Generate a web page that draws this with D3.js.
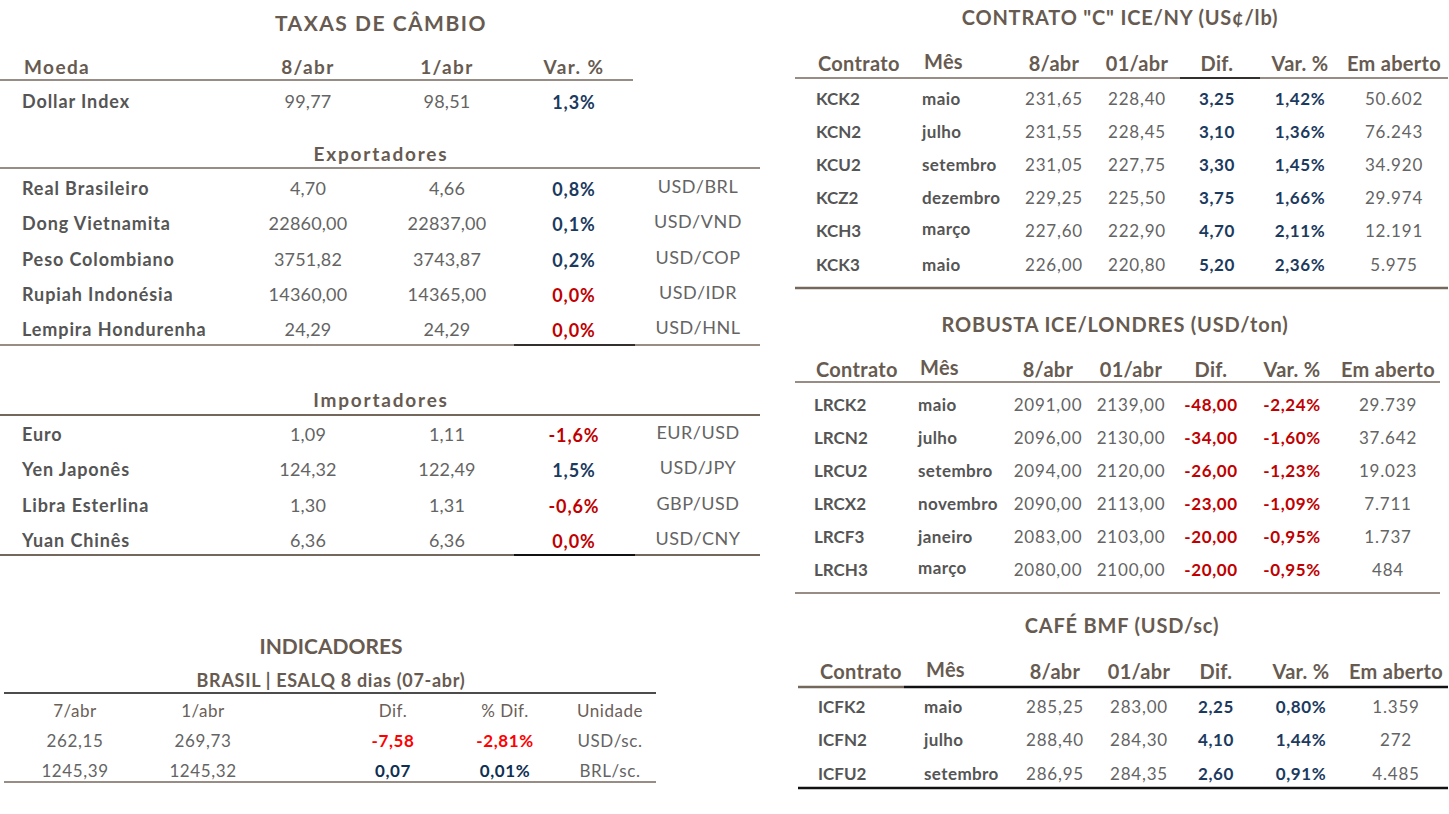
<!doctype html>
<html lang="pt">
<head>
<meta charset="utf-8">
<title>Taxas de câmbio e contratos de café</title>
<script src="https://cdn.jsdelivr.net/npm/d3@7"></script>
<style>
  body { margin: 0; background: #fff; }
  svg { display: block; font-family: Lato, "Open Sans", sans-serif; }
</style>
</head>
<body>
<script>

// ---- dados: taxas de câmbio ----
var taxaHeader = ["Moeda", "8/abr", "1/abr", "Var. %"];

var dollarNome = ["Dollar Index"];
var dollar8 = [99.77];
var dollar1 = [98.51];
var dollarVar = [1.3];

var exportNomes = ["Real Brasileiro", "Dong Vietnamita", "Peso Colombiano", "Rupiah Indonésia", "Lempira Hondurenha"];
var export8 = [4.70, 22860.00, 3751.82, 14360.00, 24.29];
var export1 = [4.66, 22837.00, 3743.87, 14365.00, 24.29];
var exportVar = [0.8, 0.1, 0.2, 0.0, 0.0];
var exportPar = ["USD/BRL", "USD/VND", "USD/COP", "USD/IDR", "USD/HNL"];

var importNomes = ["Euro", "Yen Japonês", "Libra Esterlina", "Yuan Chinês"];
var import8 = [1.09, 124.32, 1.30, 6.36];
var import1 = [1.11, 122.49, 1.31, 6.36];
var importVar = [-1.6, 1.5, -0.6, 0.0];
var importPar = ["EUR/USD", "USD/JPY", "GBP/USD", "USD/CNY"];

// ---- dados: indicadores ----
var indHeader = ["7/abr", "1/abr", "Dif.", "% Dif.", "Unidade"];
var ind7 = [262.15, 1245.39];
var ind1 = [269.73, 1245.32];
var indDif = [-7.58, 0.07];
var indPct = [-2.81, 0.01];
var indUnid = ["USD/sc.", "BRL/sc."];

// ---- dados: contratos futuros ----
var futHeader = ["Contrato", "Mês", "8/abr", "01/abr", "Dif.", "Var. %", "Em aberto"];

var kcContratos = ["KCK2", "KCN2", "KCU2", "KCZ2", "KCH3", "KCK3"];
var kcMeses = ["maio", "julho", "setembro", "dezembro", "março", "maio"];
var kc8 = [231.65, 231.55, 231.05, 229.25, 227.60, 226.00];
var kc1 = [228.40, 228.45, 227.75, 225.50, 222.90, 220.80];
var kcDif = [3.25, 3.10, 3.30, 3.75, 4.70, 5.20];
var kcVar = [1.42, 1.36, 1.45, 1.66, 2.11, 2.36];
var kcAberto = [50602, 76243, 34920, 29974, 12191, 5975];

var lrContratos = ["LRCK2", "LRCN2", "LRCU2", "LRCX2", "LRCF3", "LRCH3"];
var lrMeses = ["maio", "julho", "setembro", "novembro", "janeiro", "março"];
var lr8 = [2091, 2096, 2094, 2090, 2083, 2080];
var lr1 = [2139, 2130, 2120, 2113, 2103, 2100];
var lrDif = [-48, -34, -26, -23, -20, -20];
var lrVar = [-2.24, -1.60, -1.23, -1.09, -0.95, -0.95];
var lrAberto = [29739, 37642, 19023, 7711, 1737, 484];

var icContratos = ["ICFK2", "ICFN2", "ICFU2"];
var icMeses = ["maio", "julho", "setembro"];
var ic8 = [285.25, 288.40, 286.95];
var ic1 = [283.00, 284.30, 284.35];
var icDif = [2.25, 4.10, 2.60];
var icVar = [0.80, 1.44, 0.91];
var icAberto = [1359, 272, 4485];

// ---- estilo ----
var brown = "#675b51";
var lineBrown = "#74675c";
var nameGray = "#555555";
var valGray = "#646464";
var blue = "#1b3a5e";
var red = "#c00000";
var brightRed = "#ff0000";
var navy = "#0f2f52";

var br = d3.formatLocale({ decimal: ",", thousands: ".", grouping: [3], currency: ["", ""], minus: "-" });
var f2 = br.format(".2f");
var f1 = br.format(".1f");
var fInt = br.format(",.0f");

var width = 1449, height = 814;
var svg = d3.select("body").append("svg").attr("width", width).attr("height", height);

function txt(g, x, y, s, o) {
    o = o || {};
    return g.append("text")
        .attr("x", x).attr("y", y)
        .attr("dominant-baseline", "central")
        .attr("text-anchor", o.anchor || "middle")
        .attr("font-size", o.size || 16)
        .attr("font-weight", o.weight || "normal")
        .attr("letter-spacing", o.ls || 0)
        .attr("fill", o.fill || valGray)
        .text(s);
}

function hline(g, x1, x2, y, color, w) {
    g.append("line")
        .attr("x1", x1).attr("x2", x2).attr("y1", y).attr("y2", y)
        .attr("stroke", color || lineBrown).attr("stroke-width", w || 1.5);
}

// ================= TAXAS DE CÂMBIO =================
var left = svg.append("g");

var xTaxa = d3.scaleOrdinal().domain(taxaHeader.concat(["par"])).range([22, 308, 447, 574, 698]);

txt(left, 381, 22, "TAXAS DE CÂMBIO", { size: 21, weight: "bold", fill: brown, ls: 1.5 });

taxaHeader.forEach(function(h, i) {
    txt(left, i == 0 ? 24 : xTaxa(h), 66, h, { size: 19, weight: "bold", fill: brown, anchor: i == 0 ? "start" : "middle", ls: 1.4 });
});
hline(left, 0, 633, 80);

function taxaRows(nomes, v8, v1, vr, par, y0, y1) {
    var y = d3.scalePoint().domain(d3.range(nomes.length)).range([y0, y1]);
    nomes.forEach(function(n, i) {
        txt(left, xTaxa("Moeda"), y(i), n, { anchor: "start", size: 18, weight: "bold", fill: nameGray, ls: 0.9 });
        txt(left, xTaxa("8/abr"), y(i), f2(v8[i]), { size: 18, ls: 0.2 });
        txt(left, xTaxa("1/abr"), y(i), f2(v1[i]), { size: 18, ls: 0.2 });
        txt(left, xTaxa("Var. %"), y(i) + 1, f1(vr[i]) + "%", { size: 18, weight: "bold", fill: v8[i] > v1[i] ? blue : red, ls: 0.9 });
        if (par) txt(left, xTaxa("par"), y(i) - 2, par[i], { size: 18, ls: 0.5 });
    });
}

taxaRows(dollarNome, dollar8, dollar1, dollarVar, null, 101, 101);

txt(left, 381, 153, "Exportadores", { size: 19, weight: "bold", fill: brown, ls: 1.8 });
hline(left, 0, 760, 168);
taxaRows(exportNomes, export8, export1, exportVar, exportPar, 188, 329);
hline(left, 0, 760, 345);
hline(left, 514, 635, 345, "#111", 1.5);

txt(left, 381, 399, "Importadores", { size: 19, weight: "bold", fill: brown, ls: 1.8 });
hline(left, 0, 760, 415, lineBrown, 2);
taxaRows(importNomes, import8, import1, importVar, importPar, 434, 540);
hline(left, 0, 760, 555, lineBrown, 2);
hline(left, 514, 635, 555, "#111", 2);

// ================= INDICADORES =================
var ind = svg.append("g");
var xInd = d3.scaleOrdinal().domain(indHeader).range([75, 203, 393, 505, 610]);

txt(ind, 331, 645, "INDICADORES", { size: 21, weight: "bold", fill: brown });
txt(ind, 331, 680, "BRASIL | ESALQ 8 dias (07-abr)", { size: 18, weight: "bold", fill: brown, ls: 0.7 });
hline(ind, 4, 656, 693, "#111", 1.5);

indHeader.forEach(function(h) {
    txt(ind, xInd(h), 710, h, { size: 17, fill: "#6a6058", ls: 0.5 });
});

var yInd = d3.scalePoint().domain(d3.range(ind7.length)).range([740, 770]);
ind7.forEach(function(v, i) {
    var c = indDif[i] < 0 ? brightRed : navy;
    txt(ind, xInd("7/abr"), yInd(i), f2(ind7[i]), { size: 17, ls: 0.6 });
    txt(ind, xInd("1/abr"), yInd(i), f2(ind1[i]), { size: 17, ls: 0.6 });
    txt(ind, xInd("Dif."), yInd(i), f2(indDif[i]), { size: 17, weight: "bold", fill: c, ls: 0.6 });
    txt(ind, xInd("% Dif."), yInd(i), f2(indPct[i]) + "%", { size: 17, weight: "bold", fill: c, ls: 0.6 });
    txt(ind, xInd("Unidade"), yInd(i), indUnid[i], { size: 17, ls: 0.6 });
});
hline(ind, 4, 656, 782, lineBrown, 1.5);

// ================= CONTRATOS FUTUROS =================
function futTable(o) {
    var g = svg.append("g");
    var x = d3.scaleOrdinal().domain(futHeader).range(o.cols);
    var y = d3.scalePoint().domain(d3.range(o.contratos.length)).range(o.rows);

    txt(g, o.titleX, o.titleY, o.title, { size: 20, weight: "bold", fill: brown, ls: 0.8 });

    futHeader.forEach(function(h, i) {
        var a = i < 2 ? "start" : "middle";
        txt(g, x(h) + (i < 2 ? 2 : 0), o.headY - (i == 1 ? 2 : 0), h, { size: 20, weight: "bold", fill: brown, anchor: a, ls: 0.3 });
    });
    o.headLine(g);

    o.contratos.forEach(function(c, i) {
        var col = o.dif[i] < 0 ? red : blue;
        txt(g, x("Contrato"), y(i), c, { anchor: "start", size: 17, weight: "bold", fill: nameGray });
        txt(g, x("Mês"), y(i) - (o.meses[i] == "março" ? 2 : 0), o.meses[i], { anchor: "start", size: 17, weight: "bold", fill: nameGray, ls: 0.4 });
        txt(g, x("8/abr"), y(i), f2(o.v8[i]), { size: 17, ls: 0.8 });
        txt(g, x("01/abr"), y(i), f2(o.v1[i]), { size: 17, ls: 0.8 });
        txt(g, x("Dif."), y(i), f2(o.dif[i]), { size: 17, weight: "bold", fill: col, ls: 0.6 });
        txt(g, x("Var. %"), y(i), f2(o.vr[i]) + "%", { size: 17, weight: "bold", fill: col, ls: 0.6 });
        txt(g, x("Em aberto"), y(i), fInt(o.aberto[i]), { size: 17, ls: 0.8 });
    });
    o.footLine(g);
}

futTable({
    title: "CONTRATO \"C\" ICE/NY (US¢/lb)", titleX: 1120, titleY: 17, headY: 63,
    cols: [816, 922, 1054, 1137, 1217, 1300, 1394], rows: [98, 264],
    contratos: kcContratos, meses: kcMeses, v8: kc8, v1: kc1, dif: kcDif, vr: kcVar, aberto: kcAberto,
    headLine: function(g) { hline(g, 795, 1448, 78); hline(g, 1180, 1260, 78, "#111"); },
    footLine: function(g) { hline(g, 795, 1448, 288, lineBrown, 2.5); }
});

futTable({
    title: "ROBUSTA ICE/LONDRES (USD/ton)", titleX: 1115, titleY: 324, headY: 369,
    cols: [814, 918, 1048, 1131, 1211, 1292, 1388], rows: [404, 569],
    contratos: lrContratos, meses: lrMeses, v8: lr8, v1: lr1, dif: lrDif, vr: lrVar, aberto: lrAberto,
    headLine: function(g) { hline(g, 795, 1440, 382); },
    footLine: function(g) { hline(g, 795, 1440, 593); }
});

futTable({
    title: "CAFÉ BMF (USD/sc)", titleX: 1122, titleY: 625, headY: 671,
    cols: [818, 924, 1055, 1139, 1216, 1301, 1396], rows: [706, 773],
    contratos: icContratos, meses: icMeses, v8: ic8, v1: ic1, dif: icDif, vr: icVar, aberto: icAberto,
    headLine: function(g) { hline(g, 798, 904, 687, lineBrown, 2.5); hline(g, 904, 1448, 687, "#111", 2.5); },
    footLine: function(g) { hline(g, 798, 1448, 788, "#111", 2.5); }
});

</script>
</body>
</html>
